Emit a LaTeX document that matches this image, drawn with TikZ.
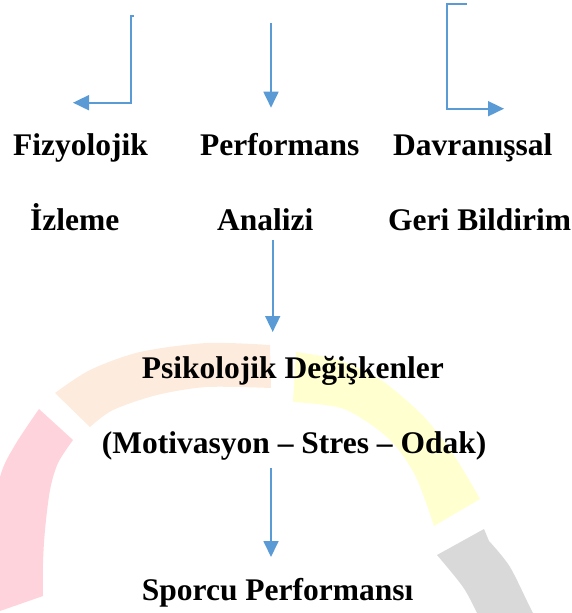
\documentclass[tikz,border=0pt]{standalone}
\usepackage{fontspec}
\setmainfont{Liberation Serif}
\usetikzlibrary{arrows.meta}
\definecolor{arrowblue}{HTML}{5B9BD5}
\definecolor{bandpink}{HTML}{FFD3DC}
\definecolor{bandpeach}{HTML}{FDEBDD}
\definecolor{bandyellow}{HTML}{FFFFD0}
\definecolor{bandgray}{HTML}{D9D9D9}
\begin{document}
\begin{tikzpicture}[x=1pt,y=-1pt,
  lbl/.style={anchor=base west,inner sep=0pt,font=\fontsize{31.5}{38}\selectfont\bfseries},
  flow/.style={draw=arrowblue,line width=1.8pt,-{Triangle[length=16pt,width=15pt]}},
]
\useasboundingbox (0,0) rectangle (571,613);
% background bands
\begin{scope}
\clip (0,0) rectangle (571,613);
\fill[bandpink] plot[smooth] coordinates {(0,611) (-12,545) (0,477) (15,445) (39,409)}
  -- plot[smooth] coordinates {(73,440) (58,463) (50,490) (45,530) (43,563) (43,596)} -- cycle;
\fill[bandpeach] plot[smooth] coordinates {(55,393) (90,370) (140,352) (207,343) (270,345)}
  -- plot[smooth] coordinates {(271,388) (207,387) (157,395) (113,410) (90,427)} -- cycle;
\fill[bandyellow] plot[smooth] coordinates {(296,352) (338,360) (381,380) (424,417) (455,457) (480,499)}
  -- plot[smooth] coordinates {(434,526) (415,475) (388,438) (344,409) (293,402)} -- cycle;
\fill[bandgray] (437,555) -- (484,529) -- plot[smooth] coordinates {(489,541) (510,567) (533,613) (545,630)}
  -- plot[smooth] coordinates {(485,630) (477,613) (463,587) (437,555)} -- cycle;
\end{scope}
% texts
\node[lbl] (fiz) at (13,155) {Fizyolojik};
\node[lbl] (izl) at (30,230) {İzleme};
\node[lbl] (perf) at (200,155) {Performans};
\node[lbl] (anl) at (217,230) {Analizi};
\node[lbl] (dav) at (393,155) {Davranışsal};
\node[lbl] (geri) at (388,230) {Geri Bildirim};
\node[lbl] (psi) at (141.7,378) {Psikolojik Değişkenler};
\node[lbl] (mot) at (101.7,453) {(Motivasyon – Stres – Odak)};
\node[lbl] (spr) at (141.7,600) {Sporcu Performansı};
% connector coordinates
\coordinate (a1s) at (134,16);
\coordinate (a1c) at (130.7,16);
\coordinate (a1b) at (130.7,102.7);
\coordinate (a1e) at (73,102.7);
\coordinate (a2s) at (271,23.3);
\coordinate (a2e) at (271,107.7);
\coordinate (a3s) at (466.7,3.6);
\coordinate (a3c) at (447.3,3.6);
\coordinate (a3b) at (447.3,108.7);
\coordinate (a3e) at (504,108.7);
\coordinate (a4s) at (272.7,240);
\coordinate (a4e) at (272.7,332);
\coordinate (a5s) at (271,468);
\coordinate (a5e) at (271,557);
% connectors
\draw[flow] (a1s) -- (a1c) -- (a1b) -- (a1e);
\draw[flow] (a2s) -- (a2e);
\draw[flow] (a3s) -- (a3c) -- (a3b) -- (a3e);
\draw[flow] (a4s) -- (a4e);
\draw[flow] (a5s) -- (a5e);
\end{tikzpicture}
\end{document}
